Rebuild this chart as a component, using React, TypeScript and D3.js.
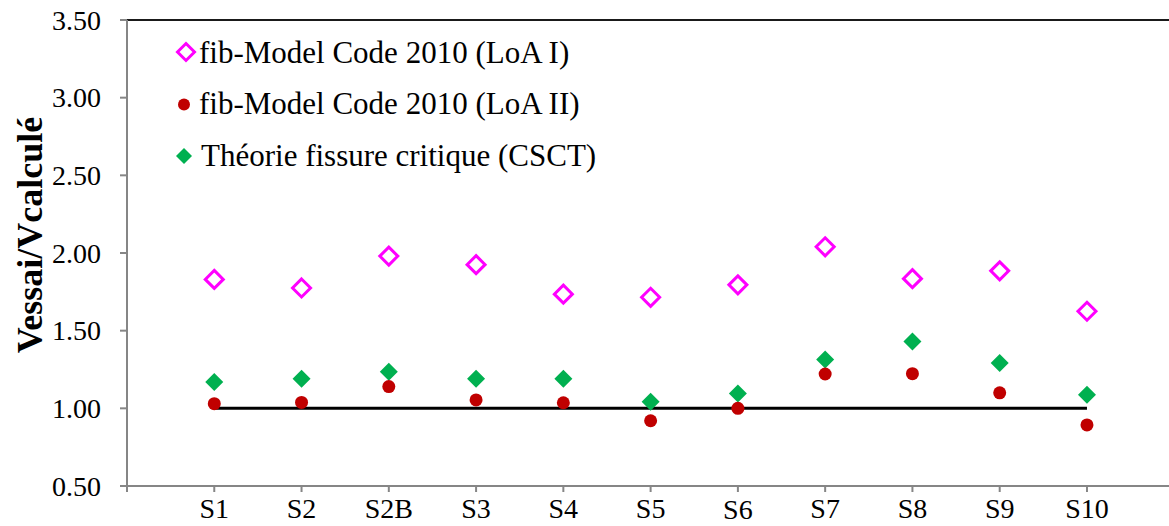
import React from 'react';
import * as d3 from 'd3';

const categories = ['S1', 'S2', 'S2B', 'S3', 'S4', 'S5', 'S6', 'S7', 'S8', 'S9', 'S10'];
const loaI = [1.83, 1.775, 1.98, 1.925, 1.735, 1.715, 1.795, 2.04, 1.835, 1.885, 1.625];
const loaII = [1.03, 1.038, 1.14, 1.054, 1.036, 0.92, 1.0, 1.221, 1.223, 1.1, 0.893];
const csct = [1.17, 1.19, 1.236, 1.19, 1.19, 1.043, 1.096, 1.314, 1.43, 1.292, 1.088];
const yTicks = [0.5, 1.0, 1.5, 2.0, 2.5, 3.0, 3.5];
const legendLabels = ['fib-Model Code 2010 (LoA I)', 'fib-Model Code 2010 (LoA II)', 'Théorie fissure critique (CSCT)'];

const W = 1169;
const H = 526;
const FONT = 'Liberation Serif, DejaVu Serif, serif';

const App: React.FC = () => {
  // x positions: categories sit at 1..11 on a 0..12 axis (right end clipped)
  const x = d3.scaleLinear().domain([0, 12]).range([127, 127 + 12 * 87.27]);
  const y = d3.scaleLinear().domain([0.5, 3.5]).range([486, 20]);

  const diamond = (cx: number, cy: number, r: number) =>
    `M${cx},${cy - r}L${cx + r},${cy}L${cx},${cy + r}L${cx - r},${cy}Z`;

  const axisColor = '#868686';
  const tick = { fontFamily: FONT, fontSize: 28 };
  const leg = { fontFamily: FONT, fontSize: 31 };

  return (
    <svg width={W} height={H} style={{ position: 'absolute', left: 0, top: 0, background: '#fff' }}>
      {/* top border */}
      <line x1={x(0)} x2={W} y1={y(3.5)} y2={y(3.5)} stroke="#1a1a1a" strokeWidth={2} />

      {/* y axis */}
      <line x1={x(0)} x2={x(0)} y1={y(3.5)} y2={y(0.5)} stroke={axisColor} strokeWidth={2} />
      {yTicks.map(t => (
        <g key={t}>
          <line x1={x(0) - 7} x2={x(0)} y1={y(t)} y2={y(t)} stroke={axisColor} strokeWidth={2} />
          <text x={101} y={y(t)} dy="0.34em" textAnchor="end" style={tick} fill="#000">
            {d3.format('.2f')(t)}
          </text>
        </g>
      ))}

      {/* x axis */}
      <line x1={x(0)} x2={W} y1={y(0.5)} y2={y(0.5)} stroke={axisColor} strokeWidth={2} />
      <line x1={x(0)} x2={x(0)} y1={y(0.5)} y2={y(0.5) + 6} stroke={axisColor} strokeWidth={2} />
      {categories.map((c, i) => (
        <g key={c}>
          <line x1={x(i + 1)} x2={x(i + 1)} y1={y(0.5)} y2={y(0.5) + 6} stroke={axisColor} strokeWidth={2} />
          <text x={x(i + 1)} y={c === 'S6' ? 519 : 518} textAnchor="middle" style={tick} fill="#000">
            {c}
          </text>
        </g>
      ))}

      {/* y axis title */}
      <text
        transform={`translate(29,${235}) rotate(-90)`}
        textAnchor="middle"
        dy="0.35em"
        style={{ fontFamily: FONT, fontSize: 36, fontWeight: 'bold' }}
        fill="#000"
      >
        Vessai/Vcalculé
      </text>

      {/* reference line at 1.00 */}
      <line x1={x(1)} x2={x(11)} y1={y(1)} y2={y(1)} stroke="#000" strokeWidth={3} />

      {/* series */}
      {loaI.map((v, i) => (
        <path key={'a' + i} d={diamond(x(i + 1), y(v), 9)} fill="none" stroke="#ff00ff" strokeWidth={3} />
      ))}
      {csct.map((v, i) => (
        <path key={'c' + i} d={diamond(x(i + 1), y(v), 9)} fill="#00b050" />
      ))}
      {loaII.map((v, i) => (
        <circle key={'b' + i} cx={x(i + 1)} cy={y(v)} r={6.5} fill="#c00000" />
      ))}

      {/* legend */}
      {legendLabels.map((l, i) => {
        const cy = 52 + i * 51.5;
        return (
          <g key={l}>
            {i === 0 && <path d={diamond(186, cy, 8.5)} fill="none" stroke="#ff00ff" strokeWidth={3} />}
            {i === 1 && <circle cx={184} cy={cy + 1} r={6} fill="#c00000" />}
            {i === 2 && <path d={diamond(184, cy + 1, 8)} fill="#00b050" />}
            <text x={i === 2 ? 201 : 199} y={cy} dy="0.34em" style={leg} fill="#000">
              {l}
            </text>
          </g>
        );
      })}
    </svg>
  );
};

export default App;
